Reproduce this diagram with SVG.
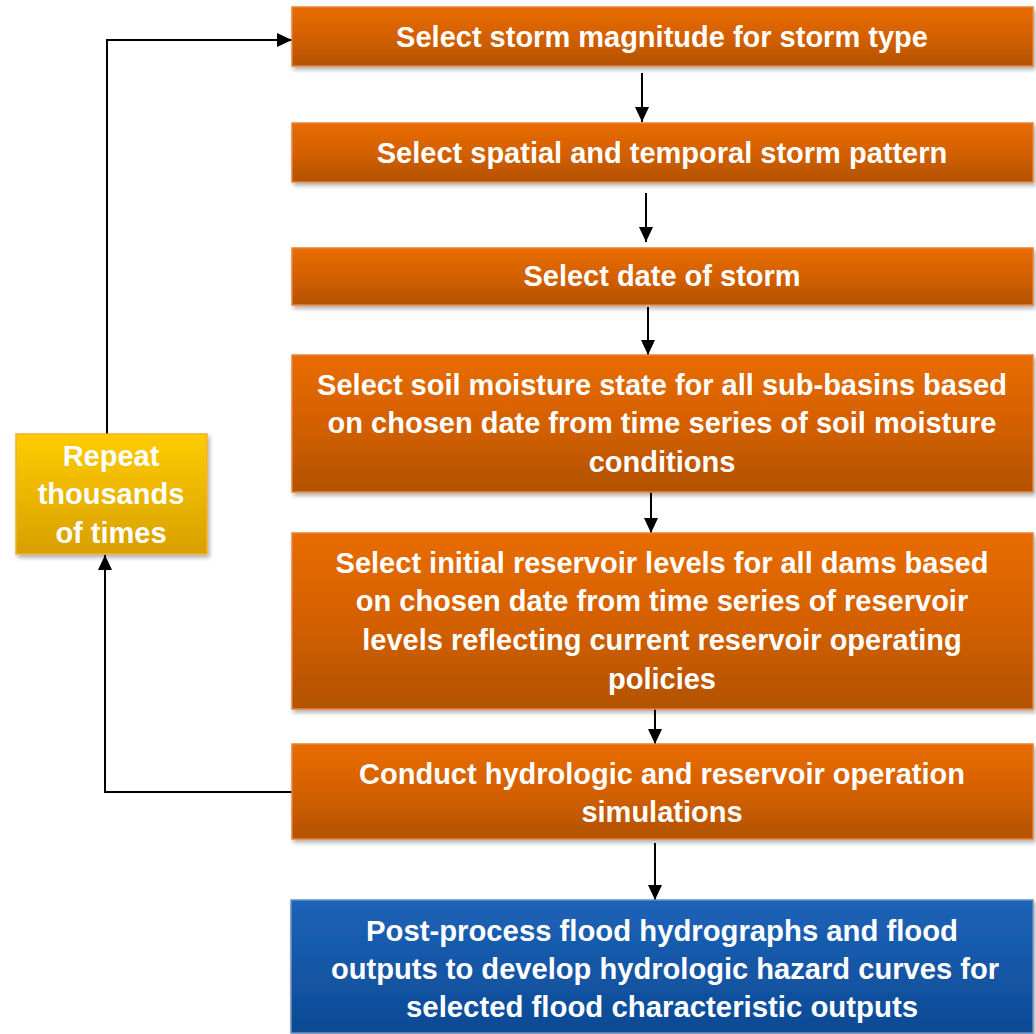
<svg xmlns="http://www.w3.org/2000/svg" width="1036" height="1034" viewBox="0 0 1036 1034">
<defs>
<linearGradient id="gOr" x1="0" y1="0" x2="0" y2="1">
<stop offset="0" stop-color="#E86C00"/>
<stop offset="0.5" stop-color="#D46000"/>
<stop offset="1" stop-color="#B25200"/>
</linearGradient>
<linearGradient id="gBl" x1="0" y1="0" x2="0" y2="1">
<stop offset="0" stop-color="#1E63B8"/>
<stop offset="1" stop-color="#0C4A94"/>
</linearGradient>
<linearGradient id="gYe" x1="0" y1="0" x2="0" y2="1">
<stop offset="0" stop-color="#FFCC00"/>
<stop offset="1" stop-color="#D8A000"/>
</linearGradient>
<filter id="sh" x="-5%" y="-10%" width="110%" height="130%">
<feDropShadow dx="2" dy="3" stdDeviation="2" flood-color="#000" flood-opacity="0.3"/>
</filter>
<marker id="ahs" markerWidth="16" markerHeight="16" refX="15" refY="7" orient="auto" markerUnits="userSpaceOnUse">
<path d="M0,0 L15,7 L0,14 Z" fill="#000"/>
</marker>
</defs>
<style>
.or{fill:url(#gOr);stroke:#E8823A;stroke-width:1.5;filter:url(#sh)}
.bl{fill:url(#gBl);stroke:#6E8FBF;stroke-width:1.5;filter:url(#sh)}
.ye{fill:url(#gYe);stroke:#F0B030;stroke-width:1.5;filter:url(#sh)}
.t{font-family:"Liberation Sans",Arial,sans-serif;font-weight:bold;font-size:29px;fill:#fff;text-anchor:middle}
.tb{font-family:"Liberation Sans",Arial,sans-serif;font-weight:bold;font-size:30px;fill:#fff;text-anchor:middle}
.c{fill:none;stroke:#000;stroke-width:2}
</style>
<g id="connectors">
<line class="c" x1="642" y1="73" x2="642" y2="122" marker-end="url(#ahs)"/>
<line class="c" x1="646" y1="193" x2="646" y2="242" marker-end="url(#ahs)"/>
<line class="c" x1="648" y1="307" x2="648" y2="355" marker-end="url(#ahs)"/>
<line class="c" x1="651" y1="487" x2="651" y2="533" marker-end="url(#ahs)"/>
<line class="c" x1="655" y1="697" x2="655" y2="744" marker-end="url(#ahs)"/>
<line class="c" x1="655" y1="843" x2="655" y2="900" marker-end="url(#ahs)"/>
<polyline class="c" points="292,792 105,792 105,555" marker-end="url(#ahs)"/>
<polyline class="c" points="107,434 107,40 292,40" marker-end="url(#ahs)"/>
</g>
<g id="n1"><rect class="or" x="292" y="7" width="741" height="59"/><text class="t" x="662" y="47">Select storm magnitude for storm type</text></g>
<g id="n2"><rect class="or" x="292" y="123" width="741" height="59"/><text class="t" x="662" y="163">Select spatial and temporal storm pattern</text></g>
<g id="n3"><rect class="or" x="292" y="248" width="741" height="57"/><text class="t" x="662" y="286">Select date of storm</text></g>
<g id="n4"><rect class="or" x="292" y="355" width="741" height="137"/>
<text class="t" x="662" y="395">Select soil moisture state for all sub-basins based</text>
<text class="t" x="662" y="433">on chosen date from time series of soil moisture</text>
<text class="t" x="662" y="472">conditions</text></g>
<g id="n5"><rect class="or" x="292" y="533" width="741" height="176"/>
<text class="t" x="662" y="573">Select initial reservoir levels for all dams based</text>
<text class="t" x="662" y="611">on chosen date from time series of reservoir</text>
<text class="t" x="662" y="650">levels reflecting current reservoir operating</text>
<text class="t" x="662" y="689">policies</text></g>
<g id="n6"><rect class="or" x="292" y="744" width="741" height="95"/>
<text class="t" x="662" y="784">Conduct hydrologic and reservoir operation</text>
<text class="t" x="662" y="822">simulations</text></g>
<g id="n7"><rect class="bl" x="291" y="900" width="742" height="133"/>
<text class="tb" x="662" y="941" textLength="592" lengthAdjust="spacingAndGlyphs">Post-process flood hydrographs and flood</text>
<text class="tb" x="665" y="979" textLength="668" lengthAdjust="spacingAndGlyphs">outputs to develop hydrologic hazard curves for</text>
<text class="tb" x="662" y="1017" textLength="512" lengthAdjust="spacingAndGlyphs">selected flood characteristic outputs</text></g>
<g id="n8"><rect class="ye" x="16" y="434" width="191" height="120"/>
<text class="t" x="111" y="466">Repeat</text>
<text class="t" x="111" y="504">thousands</text>
<text class="t" x="111" y="543">of times</text></g>
</svg>
